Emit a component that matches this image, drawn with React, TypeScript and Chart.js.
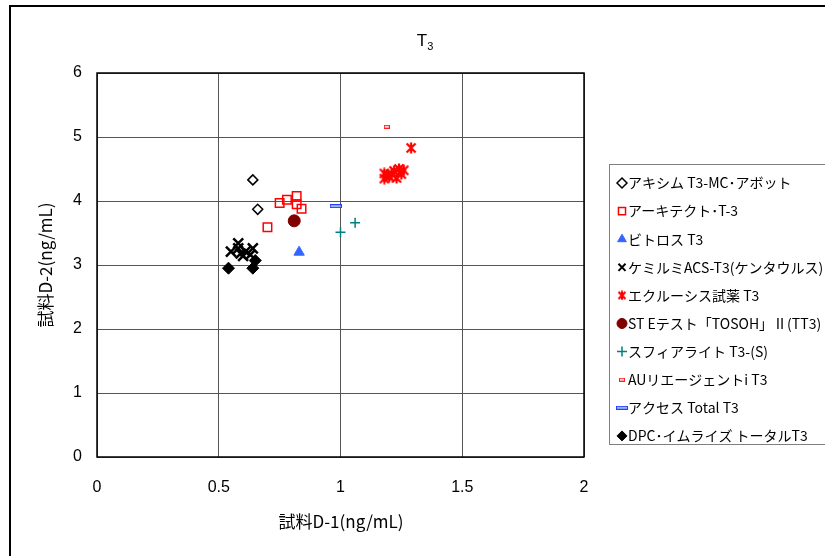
import React, { useEffect, useRef } from "react";
import { Chart, registerables } from "chart.js";
import { drawPoint } from "chart.js/helpers";

Chart.register(...registerables);

const seriesNames = [
  "アキシム T3-MC･アボット",
  "アーキテクト･T-3",
  "ビトロス T3",
  "ケミルミACS-T3(ケンタウルス)",
  "エクルーシス試薬 T3",
  "ST Eテスト「TOSOH」Ⅱ(TT3)",
  "スフィアライト T3-(S)",
  "AUリエージェントi T3",
  "アクセス Total T3",
  "DPC･イムライズ トータルT3",
];

const aximX = [0.64, 0.66];
const aximY = [4.33, 3.87];
const architectX = [0.70, 0.75, 0.78, 0.82, 0.82, 0.84];
const architectY = [3.59, 3.97, 4.02, 4.08, 3.95, 3.88];
const vitrosX = [0.83];
const vitrosY = [3.20];
const kemilumiX = [0.55, 0.58, 0.58, 0.59, 0.61, 0.63, 0.64, 0.60];
const kemilumiY = [3.21, 3.34, 3.26, 3.18, 3.21, 3.16, 3.26, 3.14];
const eclusisX = [1.18, 1.19, 1.18, 1.20, 1.21, 1.23, 1.22, 1.24, 1.26, 1.25, 1.29];
const eclusisY = [4.35, 4.40, 4.43, 4.38, 4.42, 4.36, 4.47, 4.50, 4.48, 4.42, 4.83];
const steX = [0.81];
const steY = [3.69];
const sphereX = [1.00, 1.06];
const sphereY = [3.51, 3.66];
const auX = [1.19];
const auY = [5.16];
const accessX = [0.98];
const accessY = [3.92];
const dpcX = [0.54, 0.64, 0.65];
const dpcY = [2.95, 2.95, 3.07];

const xTicks = [0, 0.5, 1, 1.5, 2];
const yTicks = [0, 1, 2, 3, 4, 5, 6];

const title = "T";
const titleSub = "3";
const xTitle = "試料D-1(ng/mL)";
const yTitle = "試料D-2(ng/mL)";

const pts = (xs: number[], ys: number[]) => xs.map((x, i) => ({ x, y: ys[i] }));

function dashImage(w: number, h: number, stroke: string, fill: string) {
  const c = document.createElement("canvas");
  c.width = w;
  c.height = h;
  const g = c.getContext("2d")!;
  g.fillStyle = stroke;
  g.fillRect(0, 0, w, h);
  g.fillStyle = fill;
  g.fillRect(1, 1, w - 2, h - 2);
  return c;
}

function asteriskImage(size: number, color: string) {
  const c = document.createElement("canvas");
  c.width = size;
  c.height = size;
  const g = c.getContext("2d")!;
  g.strokeStyle = color;
  g.lineWidth = 2.2;
  const m = 1.5;
  g.beginPath();
  g.moveTo(m, m);
  g.lineTo(size - m, size - m);
  g.moveTo(size - m, m);
  g.lineTo(m, size - m);
  g.moveTo(size / 2, 0.5);
  g.lineTo(size / 2, size - 0.5);
  g.stroke();
  return c;
}

const CJK = '"Noto Sans CJK JP", "Liberation Sans", sans-serif';
const NUM = '"Liberation Sans", Arial, sans-serif';

export default function App() {
  const ref = useRef<HTMLCanvasElement>(null);
  useEffect(() => {
    const auImg = dashImage(6, 4, "#ff2020", "#ffd0d0");
    const accImg = dashImage(12, 4, "#2040ff", "#a0b0ff");
    const astImg = asteriskImage(12, "#ff0000");
    const astSmall = asteriskImage(10, "#ff0000");

    const datasets: any[] = [
      { data: pts(aximX, aximY), pointStyle: "rectRot", radius: 5, borderColor: "#000", backgroundColor: "#fff", borderWidth: 1.5 },
      { data: pts(architectX, architectY), pointStyle: "rect", radius: 6, borderColor: "#ff0000", backgroundColor: "rgba(255,255,255,0)", borderWidth: 1.5 },
      { data: pts(vitrosX, vitrosY), pointStyle: "triangle", radius: 6, borderColor: "#3366ff", backgroundColor: "#3366ff", borderWidth: 1 },
      { data: pts(kemilumiX, kemilumiY), pointStyle: "crossRot", radius: 7, borderColor: "#000", backgroundColor: "#000", borderWidth: 2.5 },
      { data: pts(eclusisX, eclusisY), pointStyle: astImg, legendStyle: astSmall, radius: 6, borderColor: "#ff0000", backgroundColor: "#ff0000", borderWidth: 2 },
      { data: pts(steX, steY), pointStyle: "circle", radius: 6, borderColor: "#800000", backgroundColor: "#800000", borderWidth: 1 },
      { data: pts(sphereX, sphereY), pointStyle: "cross", radius: 5, borderColor: "#008080", backgroundColor: "#008080", borderWidth: 1.5 },
      { data: pts(auX, auY), pointStyle: auImg, radius: 3, borderColor: "#ff2020", backgroundColor: "#ff2020" },
      { data: pts(accessX, accessY), pointStyle: accImg, radius: 6, borderColor: "#2040ff", backgroundColor: "#2040ff" },
      { data: pts(dpcX, dpcY), pointStyle: "rectRot", radius: 6, borderColor: "#000", backgroundColor: "#000", borderWidth: 1 },
    ].map((d, i) => ({ ...d, label: seriesNames[i], pointRadius: d.radius, pointHoverRadius: d.radius, showLine: false }));

    const decor = {
      id: "decor",
      beforeDraw(chart: any) {
        const ctx = chart.ctx;
        ctx.save();
        ctx.fillStyle = "#fff";
        ctx.fillRect(0, 0, chart.width, chart.height);
        ctx.strokeStyle = "#000";
        ctx.lineWidth = 2;
        ctx.strokeRect(10, 6, 900, 900);
        ctx.restore();
      },
      afterDraw(chart: any) {
        const ctx = chart.ctx;
        const a = chart.chartArea;
        ctx.save();
        ctx.strokeStyle = "#000";
        ctx.lineWidth = 1.5;
        ctx.strokeRect(a.left, a.top, a.right - a.left, a.bottom - a.top);
        ctx.fillStyle = "#000";
        ctx.textBaseline = "alphabetic";
        ctx.textAlign = "left";
        ctx.font = `17px ${NUM}`;
        const tw = ctx.measureText(title).width;
        ctx.font = `11px ${NUM}`;
        const sw = ctx.measureText(titleSub).width;
        const tx = 425 - (tw + sw) / 2;
        ctx.font = `17px ${NUM}`;
        ctx.fillText(title, tx, 46);
        ctx.font = `11px ${NUM}`;
        ctx.fillText(titleSub, tx + tw, 50);
        ctx.font = `17px ${CJK}`;
        ctx.textAlign = "center";
        ctx.textBaseline = "middle";
        ctx.fillText(xTitle, 341, 522);
        ctx.save();
        ctx.translate(46, 265);
        ctx.rotate(-Math.PI / 2);
        ctx.fillText(yTitle, 0, 0);
        ctx.restore();
        const lx = 609, ly = 164, lw = 300, lh = 280;
        ctx.fillStyle = "#fff";
        ctx.fillRect(lx, ly, lw, lh);
        ctx.strokeStyle = "#808080";
        ctx.lineWidth = 1;
        ctx.strokeRect(lx + 0.5, ly + 0.5, lw, lh);
        ctx.font = `14px ${CJK}`;
        ctx.textAlign = "left";
        ctx.textBaseline = "middle";
        chart.data.datasets.forEach((ds: any, i: number) => {
          const y = 183 + i * 28.1;
          ctx.save();
          ctx.strokeStyle = ds.borderColor;
          ctx.fillStyle = ds.backgroundColor;
          ctx.lineWidth = Math.min(ds.borderWidth ?? 1, 2);
          const style = ds.legendStyle ?? ds.pointStyle;
          const r = typeof style === "string" ? Math.min(ds.pointRadius, 5) : ds.pointRadius;
          drawPoint(ctx, { pointStyle: style, radius: r, rotation: 0, borderWidth: ctx.lineWidth }, 622, y);
          ctx.restore();
          ctx.fillStyle = "#000";
          ctx.fillText(ds.label, 628, y);
        });
        ctx.restore();
      },
    };

    const chart = new Chart(ref.current!, {
      type: "scatter",
      data: { datasets },
      options: {
        animation: false,
        responsive: false,
        maintainAspectRatio: false,
        events: [],
        layout: { padding: { left: 0, top: 73, right: 241, bottom: 0 } },
        plugins: { legend: { display: false }, title: { display: false }, tooltip: { enabled: false } },
        scales: {
          x: {
            type: "linear",
            min: 0,
            max: 2,
            afterBuildTicks: (s: any) => { s.ticks = xTicks.map((v) => ({ value: v })); },
            afterFit: (s: any) => { s.height = 556 - 457; },
            grid: { color: "#555", lineWidth: 1, drawTicks: false },
            border: { display: false },
            ticks: { color: "#000", font: { family: NUM, size: 16 }, padding: 21, maxRotation: 0, callback: (v: any) => String(v) },
          },
          y: {
            type: "linear",
            min: 0,
            max: 6,
            afterBuildTicks: (s: any) => { s.ticks = yTicks.map((v) => ({ value: v })); },
            afterFit: (s: any) => { s.width = 97; },
            grid: { color: "#555", lineWidth: 1, drawTicks: false },
            border: { display: false },
            ticks: { color: "#000", font: { family: NUM, size: 16 }, padding: 15, callback: (v: any) => String(v) },
          },
        },
      },
      plugins: [decor],
    });
    return () => chart.destroy();
  }, []);
  return (
    <div style={{ position: "fixed", left: 0, top: 0, width: 825, height: 556 }}>
      <canvas ref={ref} width={825} height={556} style={{ width: 825, height: 556, display: "block" }} />
    </div>
  );
}
